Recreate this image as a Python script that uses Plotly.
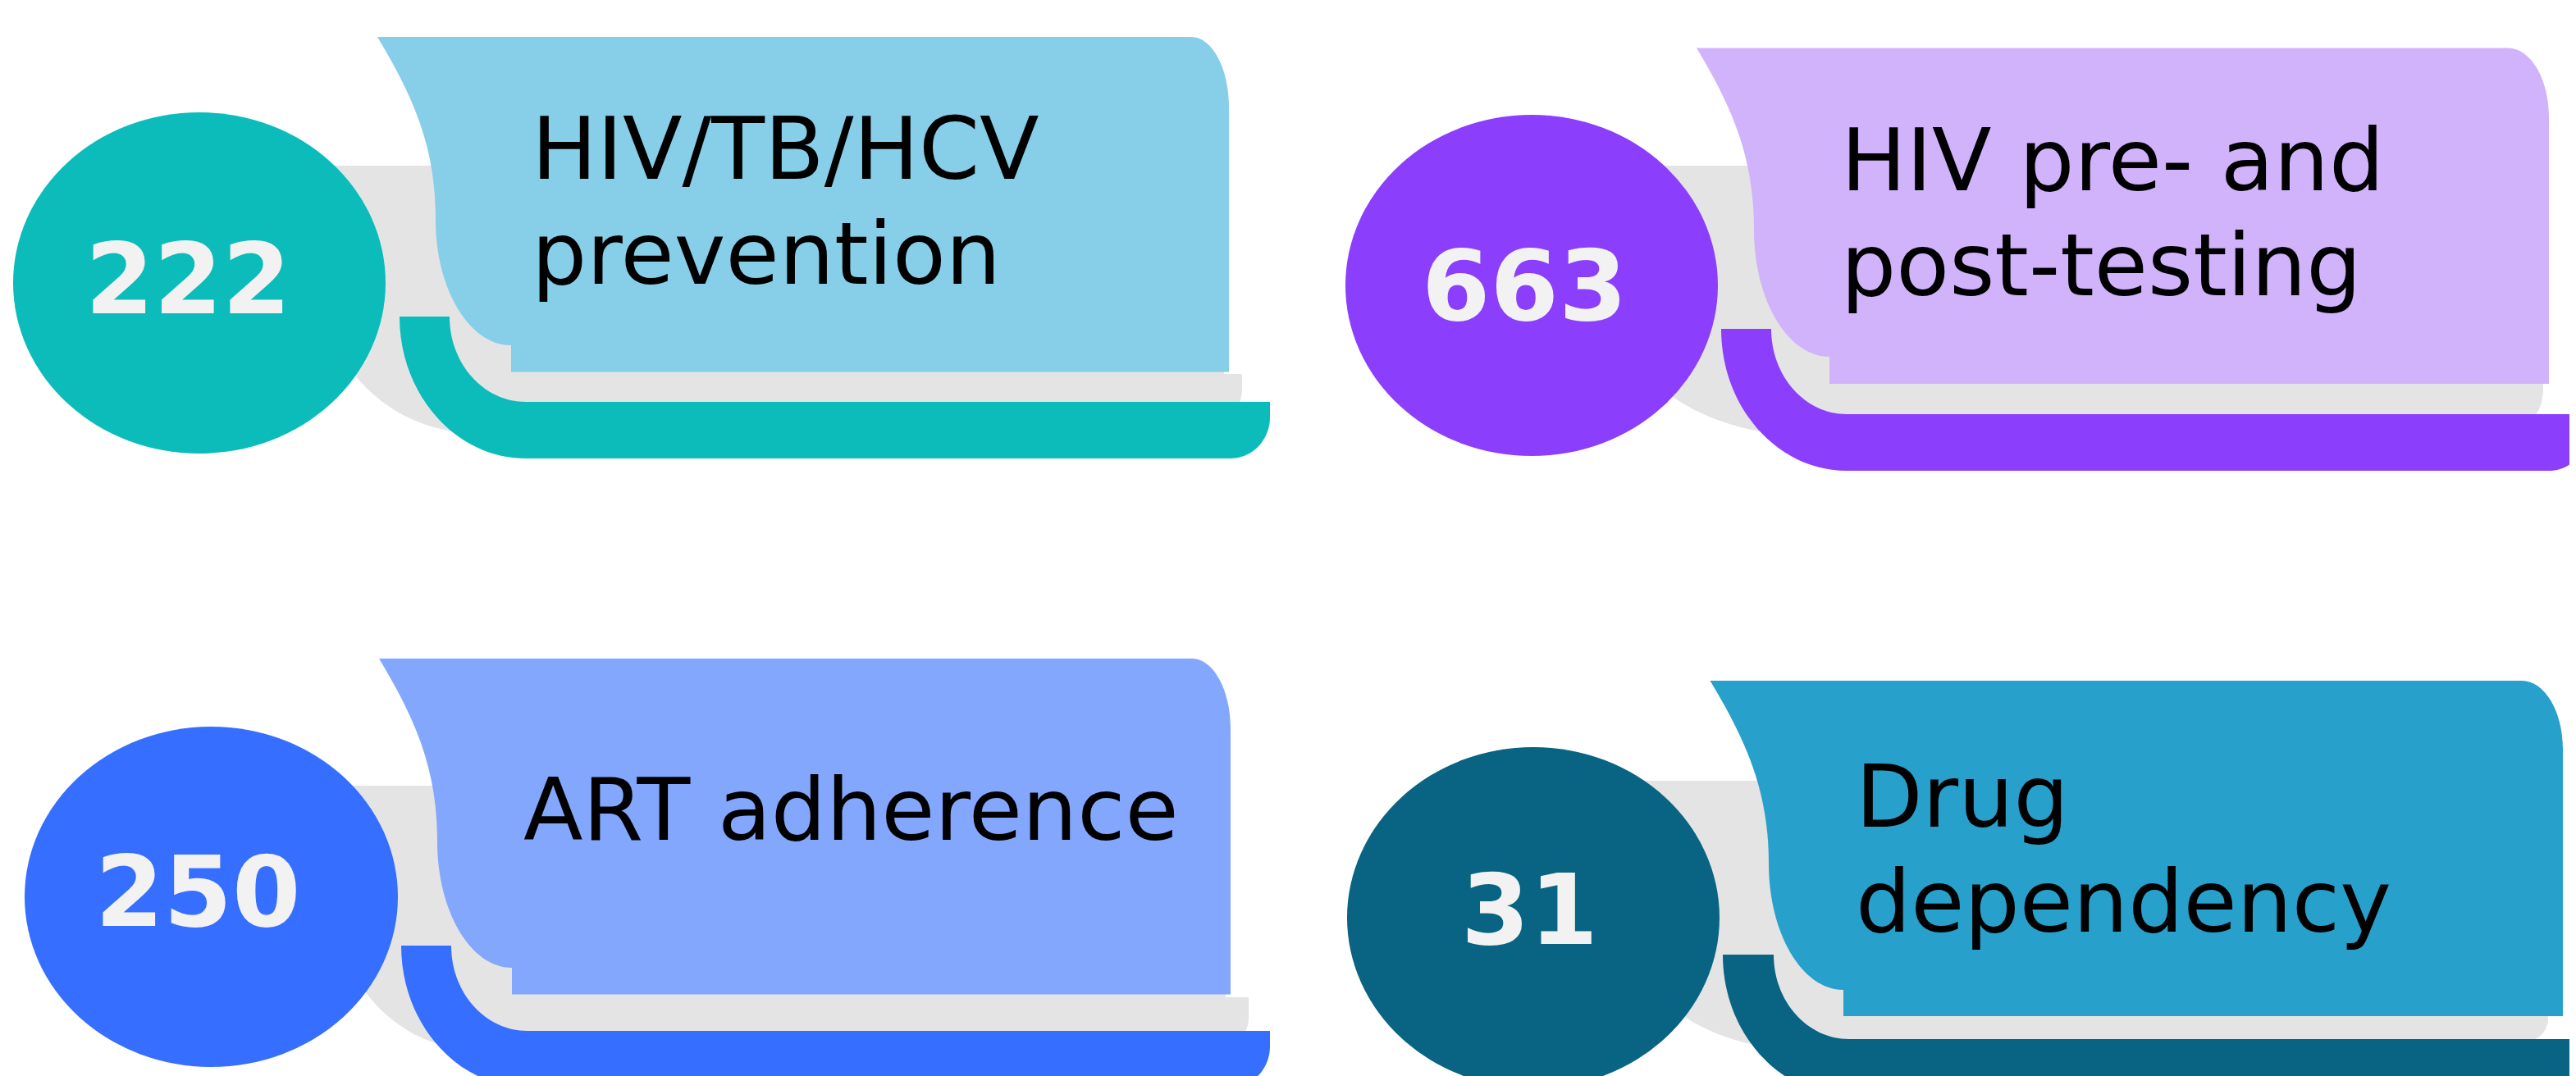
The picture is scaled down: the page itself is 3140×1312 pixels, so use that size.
import plotly.graph_objects as go

# ---------------- data ----------------
numbers = [222, 663, 250, 31]
label_lines = [
    ["HIV/TB/HCV", "prevention"],
    ["HIV pre- and", "post-testing"],
    ["ART adherence"],
    ["Drug", "dependency"],
]
dark_colors = ["#0BBCBA", "#8B3FFD", "#366EFF", "#086482"]
light_colors = ["#87CEE8", "#D1B3FC", "#84A7FE", "#27A1CB"]
shadow_color = "#E4E4E4"
number_color = "#F2F2F2"

# ---------------- layout geometry (pixels, y downward) ----------------
W, H = 3140, 1312
OFF = 8  # page body margin compensation
K = 0.5523

ellipses = [  # cx, cy, rx, ry
    (243, 345, 227, 208),
    (1867, 348, 227, 208),
    (257.5, 1093.5, 227.5, 207.5),
    (1869, 1119, 227, 208),
]
cards = [  # x0, top, xv, yv, xn, yn, bottom, right, rcx, rcy
    (460, 45, 531, 268, 623, 421, 453.5, 1498, 46, 85),
    (2068, 58.5, 2138, 280, 2230, 435, 468, 3107, 50, 84),
    (462, 803, 533, 1026, 624, 1180, 1212.5, 1500, 47, 85),
    (2084.5, 830, 2156, 1053, 2247, 1207, 1239, 3124, 50, 83),
]
strips = [  # xo, xi, ytop, xc, yh, yb, xr, rrx, rry
    (487, 548, 386, 641, 490, 559, 1548, 48, 50),
    (2098, 2159, 401, 2251, 505, 574, 3152, 45, 45),
    (489, 550, 1153, 643, 1257, 1326, 1548, 48, 50),
    (2100, 2162, 1164, 2254, 1267, 1336, 3180, 45, 45),
]
shadows = [  # gy, sx, sy, gr, crx, cry, gbot, gcx, grx, gry
    (202, 1492, 456, 1514, 6, 20, 528, 580, 193.5, 200),
    (202, 3100, 202, 3100, 15, 35, 530, 2195, 239, 190),
    (958, 1494, 1216, 1522, 8, 20, 1280, 581, 178, 200),
    (952, 3106, 952, 3106, 28, 28, 1280, 2197, 240, 200),
]
text_pos = [  # anchor x, baselines
    (646, [218, 346]),
    (2242, [232, 360]),
    (636, [1024]),
    (2260, [1008, 1136]),
]
num_pos = [  # center x, baseline
    (229.5, 382),
    (1858.5, 390),
    (241, 1129),
    (1864.5, 1151),
]
LABEL_SIZE = 106
NUM_SIZE = 120


def f(v):
    return f"{v:.2f}"


def card_path(x0, top, xv, yv, xn, yn, bottom, right, rcx, rcy):
    p = f"M {f(x0)},{f(top)} "
    p += f"C {f(x0+45)},{f(top+75)} {f(xv)},{f(top+135)} {f(xv)},{f(yv)} "
    p += f"C {f(xv)},{f(yv+K*(yn-yv))} {f(xn-K*(xn-xv))},{f(yn)} {f(xn)},{f(yn)} "
    p += f"L {f(xn)},{f(bottom)} L {f(right)},{f(bottom)} L {f(right)},{f(top+rcy)} "
    p += f"C {f(right)},{f(top+rcy-K*rcy)} {f(right-rcx+K*rcx)},{f(top)} {f(right-rcx)},{f(top)} Z"
    return p


def strip_path(xo, xi, ytop, xc, yh, yb, xr, rrx, rry):
    p = f"M {f(xo)},{f(ytop)} L {f(xi)},{f(ytop)} "
    p += f"C {f(xi)},{f(ytop+K*(yh-ytop))} {f(xc-K*(xc-xi))},{f(yh)} {f(xc)},{f(yh)} "
    p += f"L {f(xr)},{f(yh)} L {f(xr)},{f(yb-rry)} "
    p += f"C {f(xr)},{f(yb-rry+K*rry)} {f(xr-rrx+K*rrx)},{f(yb)} {f(xr-rrx)},{f(yb)} "
    p += f"L {f(xc)},{f(yb)} "
    p += f"C {f(xc-K*(xc-xo))},{f(yb)} {f(xo)},{f(ytop+K*(yb-ytop))} {f(xo)},{f(ytop)} Z"
    return p


def shadow_path(gy, sx, sy, gr, crx, cry, gbot, gcx, grx, gry, yh):
    yend = yh + 3
    p = f"M {f(gcx-grx)},{f(gy)} L {f(sx)},{f(gy)} L {f(sx)},{f(sy)} L {f(gr)},{f(sy)} "
    p += f"L {f(gr)},{f(yend-cry)} "
    p += f"C {f(gr)},{f(yend-cry+K*cry)} {f(gr-crx+K*crx)},{f(yend)} {f(gr-crx)},{f(yend)} "
    p += f"L {f(gcx)},{f(gbot)} "
    p += f"C {f(gcx-K*grx)},{f(gbot)} {f(gcx-grx)},{f(gbot-gry+K*gry)} {f(gcx-grx)},{f(gbot-gry)} Z"
    return p


shapes = []
annotations = []
for i in range(4):
    yh = strips[i][4]
    shapes.append(dict(type="path", xref="x", yref="y", layer="above",
                       path=shadow_path(*shadows[i], yh),
                       fillcolor=shadow_color, line=dict(width=0)))
    shapes.append(dict(type="path", xref="x", yref="y", layer="above",
                       path=strip_path(*strips[i]),
                       fillcolor=dark_colors[i], line=dict(width=0)))
    shapes.append(dict(type="path", xref="x", yref="y", layer="above",
                       path=card_path(*cards[i]),
                       fillcolor=light_colors[i], line=dict(width=0)))
    cx, cy, rx, ry = ellipses[i]
    shapes.append(dict(type="circle", xref="x", yref="y", layer="above",
                       x0=cx-rx, x1=cx+rx, y0=cy-ry, y1=cy+ry,
                       fillcolor=dark_colors[i], line=dict(width=0)))

    tx, baselines = text_pos[i]
    for line, bl in zip(label_lines[i], baselines):
        annotations.append(dict(
            x=tx, y=bl - 0.346 * LABEL_SIZE, xref="x", yref="y",
            text=line, showarrow=False, xanchor="left", yanchor="middle",
            font=dict(family="DejaVu Sans", size=LABEL_SIZE, color="#000000")))
    nx, nb = num_pos[i]
    annotations.append(dict(
        x=nx, y=nb - 0.346 * NUM_SIZE, xref="x", yref="y",
        text=str(numbers[i]), showarrow=False, xanchor="center", yanchor="middle",
        font=dict(family="DejaVu Sans", size=NUM_SIZE, color=number_color, weight=700)))

fig = go.Figure()
fig.add_trace(go.Scatter(x=[OFF], y=[OFF], mode="markers", marker=dict(opacity=0),
                         hoverinfo="skip", showlegend=False))
fig.update_layout(
    width=W, height=H,
    margin=dict(l=0, r=0, t=0, b=0, pad=0),
    paper_bgcolor="white", plot_bgcolor="white",
    xaxis=dict(range=[OFF, W + OFF], visible=False, fixedrange=True),
    yaxis=dict(range=[H + OFF, OFF], visible=False, fixedrange=True),
    shapes=shapes, annotations=annotations, showlegend=False,
)
fig.write_html("out.html")
